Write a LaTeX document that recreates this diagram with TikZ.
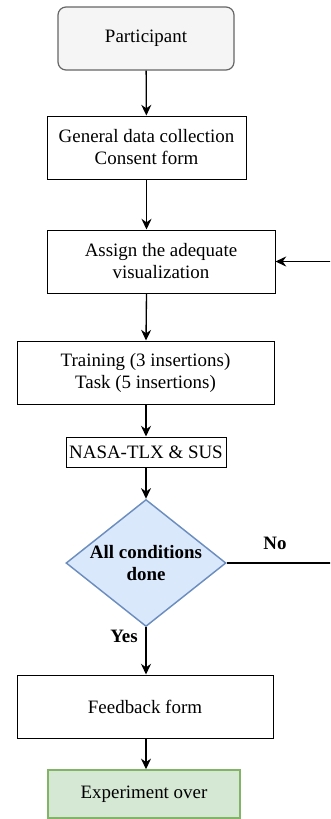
\documentclass[tikz,border=0pt]{standalone}
\usepackage{fontspec}
\setmainfont{Liberation Serif}
\usetikzlibrary{arrows.meta,shapes.geometric}
\definecolor{G1}{RGB}{245,245,245}
\definecolor{G2}{RGB}{102,102,102}
\definecolor{B1}{RGB}{218,232,252}
\definecolor{B2}{RGB}{108,142,191}
\definecolor{E1}{RGB}{213,232,212}
\definecolor{E2}{RGB}{130,179,102}
\begin{document}
\begin{tikzpicture}[x=0.75pt, y=-0.75pt,
    every node/.style={font=\fontsize{14.2}{16.5}\selectfont, align=center, inner sep=0pt},
    stepbox/.style={draw=black, line width=0.75pt, fill=white, minimum height=47.25pt},
    flow/.style={line width=1pt, -{Stealth[length=8pt, width=7.5pt]}}]
  \clip (0,0) rectangle (330,819);
  % boxes
  \node[draw=G2, fill=G1, rounded corners=6pt, line width=0.9pt, minimum width=132pt, minimum height=47.25pt] (part) at (146, 38.5) {Participant};
  \node[stepbox, minimum width=149.25pt] (gen) at (146.5, 147.5) {General data collection\\Consent form};
  \node[stepbox, minimum width=171pt] (assign) at (161, 261.5) {Assign the adequate\\visualization};
  \node[stepbox, minimum width=192.75pt] (train) at (145.5, 372.5) {Training (3 insertions)\\Task (5 insertions)};
  \node[stepbox, minimum width=120pt, minimum height=22.5pt] (nasa) at (146, 452) {NASA-TLX \& SUS};
  \node[diamond, draw=B2, fill=B1, line width=1.1pt, minimum width=120pt, minimum height=95.25pt] (dec) at (146, 563) {};
  \node[font=\fontsize{14.2}{16.5}\selectfont\bfseries] (dectext) at (dec.center) {All conditions\\done};
  \node[stepbox, minimum width=192pt] (feed) at (145, 706.5) {Feedback form};
  \node[draw=E2, fill=E1, line width=1.1pt, minimum width=144pt, minimum height=36pt] (over) at (144, 794) {Experiment over};
  % labels
  \node[font=\fontsize{14.2}{16.5}\selectfont\bfseries] (yes) at (124, 636) {Yes};
  \node[font=\fontsize{14.2}{16.5}\selectfont\bfseries] (no) at (275, 543) {No};
  \coordinate (loop) at (345, 563);
  % connectors
  \draw[flow] (part) -- (gen);
  \draw[flow] (gen) -- (assign.north -| gen);
  \draw[flow] (assign.south -| gen) -- (nasa |- train.north);
  \draw[flow] (nasa |- train.south) -- (nasa);
  \draw[flow] (nasa) -- (dec);
  \draw[flow] (dec) -- (dec |- feed.north);
  \draw[flow] (dec.south |- feed.south) -- (dec |- over.north);
  \draw[flow] (dec.east) -- (loop) |- (assign.east);
\end{tikzpicture}
\end{document}
